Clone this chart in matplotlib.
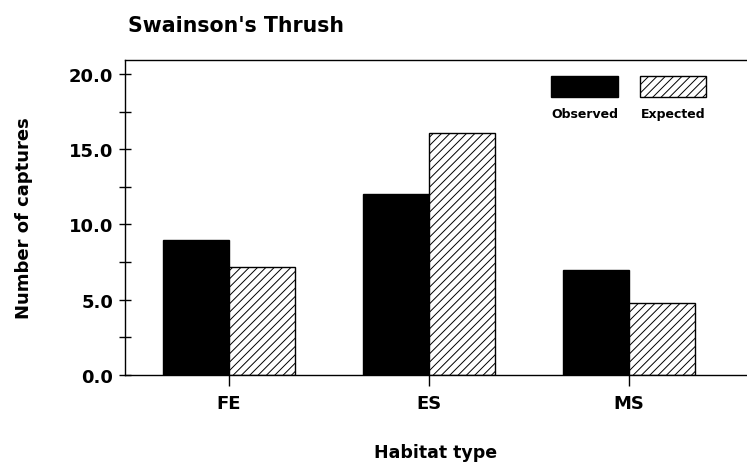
import matplotlib as mpl
from matplotlib import pyplot as plt
from matplotlib.patches import Rectangle
from matplotlib.ticker import MultipleLocator
import numpy as np

plt.rcParams.update({
    'font.family': 'DejaVu Sans',
    'font.weight': 'bold',
    'axes.labelweight': 'bold',
    'font.size': 13,
    'hatch.linewidth': 0.7,
    'axes.linewidth': 1.0,
})

# data
habitats = ['FE', 'ES', 'MS']
observed = [9.0, 12.0, 7.0]
expected = [7.2, 16.1, 4.8]
series_labels = ['Observed', 'Expected']

fig = plt.figure(figsize=(7.47, 4.64), dpi=100)
ax = fig.add_axes([125/747, 1-376/464, 622/747, 315/464])

x = np.arange(len(habitats))
w = 0.33
ax.bar(x - w/2, observed, w, color='black', edgecolor='black', linewidth=1.0)
ax.bar(x + w/2, expected, w, color='white', edgecolor='black', linewidth=1.0, hatch='////')

ax.set_xlim(-0.52, 2.59)
ax.set_ylim(0, 20.93)
ax.set_xticks(x)
ax.set_xticklabels(habitats)
ax.yaxis.set_major_locator(MultipleLocator(5))
ax.yaxis.set_minor_locator(MultipleLocator(2.5))
ax.yaxis.set_major_formatter(mpl.ticker.FormatStrFormatter('%.1f'))
ax.tick_params(axis='y', which='both', direction='inout', length=9, width=1.0, pad=4)
ax.tick_params(axis='x', direction='out', length=8, width=1.0, pad=6)
ax.spines['right'].set_visible(False)

ax.set_ylabel('Number of captures', fontsize=13, labelpad=26)
ax.set_xlabel('Habitat type', fontsize=12.5, labelpad=22)
fig.text(128/747, 1-26/464, "Swainson's Thrush", fontsize=14.8, fontweight='bold',
         ha='left', va='center')

# legend drawn as boxes with labels underneath
ax.add_patch(Rectangle((0.685, 0.883), 0.108, 0.066, transform=ax.transAxes,
                       facecolor='black', edgecolor='black', lw=1.0, clip_on=False))
ax.add_patch(Rectangle((0.828, 0.883), 0.106, 0.066, transform=ax.transAxes,
                       facecolor='white', edgecolor='black', lw=1.0, hatch='////', clip_on=False))
ax.text(0.739, 0.83, series_labels[0], transform=ax.transAxes, ha='center', va='center', fontsize=9)
ax.text(0.881, 0.83, series_labels[1], transform=ax.transAxes, ha='center', va='center', fontsize=9)

fig.savefig('out.png', dpi=100)
